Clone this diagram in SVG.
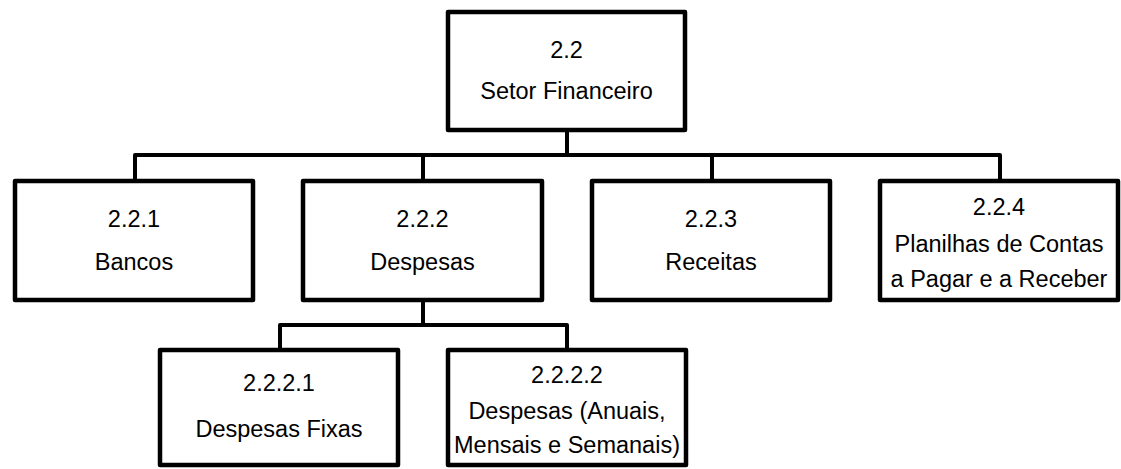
<svg xmlns="http://www.w3.org/2000/svg" width="1121" height="469" viewBox="0 0 1121 469">
<style>
.box{fill:#fff;stroke:#000;stroke-width:4.5;stroke-linejoin:round}
.ln{fill:none;stroke:#000;stroke-width:4;stroke-linejoin:round}
text{font-family:"Liberation Sans",Arial,sans-serif;font-size:23.5px;fill:#000;text-anchor:middle}
</style>
<rect width="1121" height="469" fill="#fff"/>
<g id="connectors">
<path class="ln" d="M567,130 V155 M135,181 V155 H1000 V181 M423,155 V181 M712,155 V181"/>
<path class="ln" d="M423,300 V325 M280,350 V325 H567 V350"/>
</g>
<g id="n22">
<rect class="box" x="448" y="12" width="237" height="118"/>
<text x="566.5" y="58">2.2</text>
<text x="566.5" y="99">Setor Financeiro</text>
</g>
<g id="n221">
<rect class="box" x="15" y="181" width="238" height="119"/>
<text x="134" y="227">2.2.1</text>
<text x="134" y="270">Bancos</text>
</g>
<g id="n222">
<rect class="box" x="303" y="181" width="239" height="119"/>
<text x="422.5" y="227">2.2.2</text>
<text x="422.5" y="270">Despesas</text>
</g>
<g id="n223">
<rect class="box" x="592" y="181" width="238" height="119"/>
<text x="711" y="227">2.2.3</text>
<text x="711" y="270">Receitas</text>
</g>
<g id="n224">
<rect class="box" x="880" y="181" width="238" height="119"/>
<text x="999" y="215">2.2.4</text>
<text x="999" y="252">Planilhas de Contas</text>
<text x="999" y="287">a Pagar e a Receber</text>
</g>
<g id="n2221">
<rect class="box" x="160" y="350" width="238" height="115"/>
<text x="279" y="391">2.2.2.1</text>
<text x="279" y="437">Despesas Fixas</text>
</g>
<g id="n2222">
<rect class="box" x="448" y="350" width="238" height="115"/>
<text x="567" y="383">2.2.2.2</text>
<text x="567" y="419">Despesas (Anuais,</text>
<text x="567" y="453">Mensais e Semanais)</text>
</g>
</svg>
